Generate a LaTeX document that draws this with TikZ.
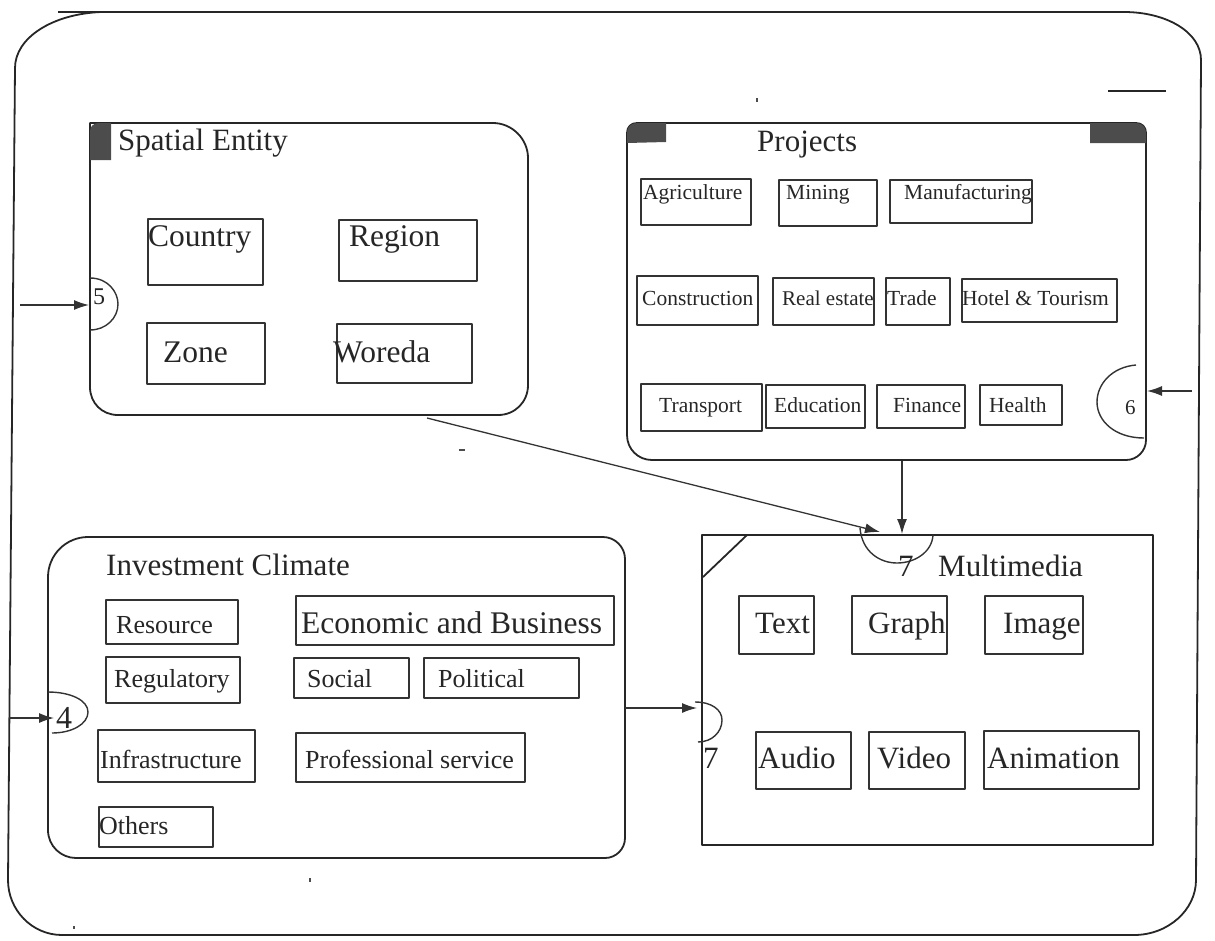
\documentclass[tikz,border=0pt]{standalone}
\usepackage{fontspec}
\setmainfont{Liberation Serif}
\usetikzlibrary{arrows.meta}
\newcommand\fsz[1]{\fontsize{#1}{#1}\selectfont}
% x1,y1,x2,y2,tx,ty,text,size,name
\newcommand\ibox[9]{%
  \draw[bx] (#1,#2) rectangle (#3,#4);
  \node[lbl, font=\fsz{#8}] (#9) at (#5,#6) {#7};}
\begin{document}
\begin{tikzpicture}[x=1pt, y=-1pt, line join=round,
  ln/.style={draw=black!85, line width=1.8pt},
  bx/.style={draw=black!80, line width=1.4pt},
  lbl/.style={anchor=base west, inner sep=0pt, text=black!85},
  arr/.style={draw=black!80, line width=1.3pt, -{Latex[length=15pt,width=10pt]}},
  dark/.style={fill=black!70},
  speck/.style={draw=black!70, line width=1.2pt}]
\useasboundingbox (0,0) rectangle (1215,940);

% outer frame
\draw[ln] (58,12) -- (1124,12) .. controls (1166,12) and (1201,32) .. (1201,60)
  -- (1196,880) .. controls (1196,910) and (1168,935) .. (1134,935)
  -- (62,935) .. controls (32,935) and (8,910) .. (8,880)
  -- (15,68) .. controls (15,38) and (52,14) .. (101,12);
\draw[ln] (1108,91) -- (1166,91);
\draw[speck] (757,98) -- (757,102);
\draw[speck] (459,450) -- (465,450);
\draw[speck] (310,878) -- (310,882);
\draw[speck] (74,926) -- (74,929);

% ---------- Spatial Entity ----------
\draw[ln] (90,123) -- (493,123) .. controls (512,123) and (528,139) .. (528,158)
  -- (528,385) .. controls (528,402) and (515,415) .. (498,415)
  -- (118,415) .. controls (102,415) and (90,403) .. (90,387) -- cycle;
\fill[dark] (90,160) -- (90,131) .. controls (90,126) and (94,123) .. (99,123) -- (111,123) -- (111,160) -- cycle;
\node[lbl, font=\fsz{31}] (setitle) at (118,150) {Spatial Entity};
\ibox{148}{219}{263}{285}{148}{246}{Country}{31.5}{country}
\ibox{339}{220}{477}{281}{349}{246}{Region}{31.5}{region}
\ibox{147}{323}{265}{384}{163}{362}{Zone}{31.5}{zone}
\ibox{337}{324}{472}{383}{333}{362}{Woreda}{31.5}{woreda}
% connector 5
\draw[bx] (90,278) .. controls (108,278) and (118,292) .. (118,304)
  .. controls (118,318) and (106,330) .. (90,330);
\node[lbl, font=\fsz{24}] (n5) at (93,304) {5};
\coordinate (in5) at (20,305);
\coordinate (se-w) at (89,305);
\draw[arr] (in5) -- (se-w);

% ---------- Projects ----------
\draw[ln] (627,133) .. controls (627,127) and (631,123) .. (637,123) -- (1136,123)
  .. controls (1142,123) and (1146,127) .. (1146,133) -- (1146,440)
  .. controls (1146,451) and (1137,460) .. (1126,460) -- (652,460)
  .. controls (638,460) and (627,449) .. (627,435) -- cycle;
\fill[dark] (627,143) -- (627,133) .. controls (627,127) and (631,123) .. (637,123) -- (666,123) -- (666,142) -- cycle;
\fill[dark] (1146,143) -- (1146,133) .. controls (1146,127) and (1142,123) .. (1136,123) -- (1090,123) -- (1090,143) -- cycle;
\node[lbl, font=\fsz{31}] (prtitle) at (757,151) {Projects};
\ibox{641}{179}{751}{225}{643}{199}{Agriculture}{21.5}{agri}
\ibox{779}{180}{877}{226}{786}{199}{Mining}{21.5}{mining}
\ibox{890}{180}{1032}{223}{904}{199}{Manufacturing}{21.5}{manuf}
\ibox{637}{276}{758}{325}{642}{305}{Construction}{21.5}{constr}
\ibox{773}{278}{874}{325}{782}{305}{Real estate}{21}{realest}
\ibox{886}{278}{950}{325}{887}{305}{Trade}{21.5}{trade}
\ibox{962}{279}{1117}{322}{962}{305}{Hotel \& Tourism}{21.5}{hotel}
\ibox{641}{384}{762}{431}{659}{412}{Transport}{21.5}{transp}
\ibox{766}{385}{865}{428}{774}{412}{Education}{21.5}{educ}
\ibox{877}{385}{965}{428}{893}{412}{Finance}{21.5}{fin}
\ibox{980}{385}{1062}{425}{989}{412}{Health}{21.5}{health}
% connector 6
\draw[bx] (1136,365) .. controls (1112,367) and (1097,384) .. (1097,402)
  .. controls (1097,421) and (1115,438) .. (1144,438);
\node[lbl, font=\fsz{21}] (n6) at (1125,414) {6};
\coordinate (in6) at (1192,391);
\coordinate (pr-e) at (1147,391);
\draw[arr] (in6) -- (pr-e);

% ---------- Investment Climate ----------
\draw[ln] (48,577) .. controls (48,555) and (66,537) .. (88,537) -- (603,537)
  .. controls (615,537) and (625,547) .. (625,559) -- (625,838)
  .. controls (625,849) and (616,858) .. (605,858) -- (76,858)
  .. controls (61,858) and (48,846) .. (48,830) -- cycle;
\node[lbl, font=\fsz{31}] (ictitle) at (106,575) {Investment Climate};
\ibox{106}{600}{238}{644}{116}{633}{Resource}{26}{resource}
\ibox{296}{596}{614}{645}{301}{633}{Economic and Business}{31.5}{econ}
\ibox{106}{657}{240}{703}{114}{687}{Regulatory}{26}{regul}
\ibox{294}{658}{409}{698}{307}{687}{Social}{26}{social}
\ibox{424}{658}{579}{698}{438}{687}{Political}{26}{polit}
\ibox{98}{730}{255}{782}{100}{768}{Infrastructure}{26}{infra}
\ibox{296}{733}{525}{782}{305}{768}{Professional service}{26}{prof}
\ibox{99}{807}{213}{847}{99}{834}{Others}{26}{others}
% connector 4
\draw[bx] (48,692) .. controls (70,692) and (88,700) .. (88,712)
  .. controls (88,724) and (72,733) .. (52,733);
\node[lbl, font=\fsz{32}] (n4) at (56,728) {4};
\coordinate (in4) at (9,718);
\coordinate (ic-w) at (54,718);
\draw[arr] (in4) -- (ic-w);

% ---------- Multimedia ----------
\draw[ln] (702,535) rectangle (1153,845);
\draw[ln] (747,535) -- (703,577);
\node[lbl, font=\fsz{31}] (mmtitle) at (938,576) {Multimedia};
\ibox{739}{596}{814}{654}{755}{633}{Text}{31}{text}
\ibox{852}{596}{947}{654}{868}{633}{Graph}{31}{graph}
\ibox{985}{596}{1083}{654}{1003}{633}{Image}{31}{image}
\ibox{756}{732}{851}{789}{758}{768}{Audio}{31}{audio}
\ibox{869}{732}{965}{789}{877}{768}{Video}{31}{video}
\ibox{984}{731}{1139}{789}{987}{768}{Animation}{31}{anim}
% connector 7 (top)
\draw[bx] (860,528) .. controls (862,552) and (880,563) .. (897,563)
  .. controls (915,563) and (932,552) .. (933,535);
\node[lbl, font=\fsz{31}] (n7a) at (898,576) {7};
% connector 7 (left)
\draw[bx] (695,702) .. controls (712,702) and (722,710) .. (722,720)
  .. controls (722,732) and (712,742) .. (698,742);
\node[lbl, font=\fsz{31}] (n7b) at (703,768) {7};

% ---------- connectors between modules ----------
\coordinate (se-s) at (427,418);
\coordinate (mm-n1) at (880,532);
\coordinate (pr-s) at (902,461);
\coordinate (mm-n2) at (902,534);
\coordinate (ic-e) at (625,708);
\coordinate (mm-w) at (697,708);
\draw[arr] (se-s) -- (mm-n1);
\draw[arr] (pr-s) -- (mm-n2);
\draw[arr] (ic-e) -- (mm-w);
\end{tikzpicture}
\end{document}
